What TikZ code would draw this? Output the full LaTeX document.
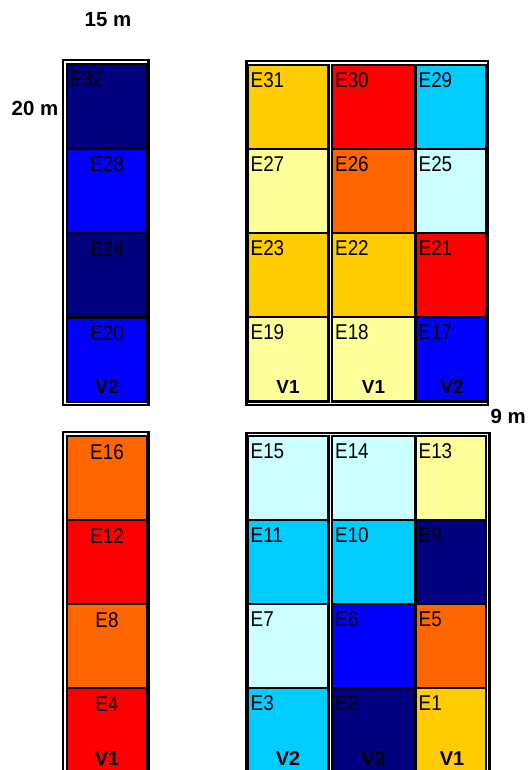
\documentclass[tikz,border=0pt]{standalone}
\usepackage{fontspec}
\setmainfont{Liberation Sans}
\definecolor{cnavy}{HTML}{000080}
\definecolor{cblue}{HTML}{0000FF}
\definecolor{cgold}{HTML}{FFCC00}
\definecolor{cred}{HTML}{FF0000}
\definecolor{csky}{HTML}{00CCFF}
\definecolor{clyel}{HTML}{FFFF99}
\definecolor{corange}{HTML}{FF6600}
\definecolor{clcyan}{HTML}{CCFFFF}
\tikzset{
  cellbox/.style={draw=black, line width=2.4bp},
  framebox/.style={draw=black, line width=2.4bp},
  etext/.style={inner sep=0pt, font=\fontsize{21.5}{24}\selectfont, xscale=0.88},
  vtext/.style={inner sep=0pt, anchor=base, font=\fontsize{19}{22}\selectfont\bfseries},
  vtextb/.style={inner sep=0pt, anchor=base, font=\fontsize{20}{24}\selectfont\bfseries},
  dimtext/.style={inner sep=0pt, font=\fontsize{20.5}{24}\selectfont\bfseries},
}
% left-aligned cell: x1 y1 x2 y2 colour label
\newcommand{\ecellL}[6]{%
  \filldraw[cellbox, fill=#5] (#1,#2) rectangle (#3,#4);
  \node[etext, anchor=base west] (n#6) at ({#1+3},{#2+22.5}) {#6};}
% centred cell
\newcommand{\ecellC}[6]{%
  \filldraw[cellbox, fill=#5] (#1,#2) rectangle (#3,#4);
  \node[etext, anchor=base] (n#6) at ({(#1+#3)/2},{#2+23}) {#6};}
\begin{document}
\begin{tikzpicture}[x=1bp, y=-1bp]
\useasboundingbox (0,0) rectangle (528,770);
\clip (0,0) rectangle (528,770);
\fill[white] (0,0) rectangle (528,770);

% dimension labels
\node[dimtext, anchor=base] (d15) at (108,26.5) {15 m};
\node[dimtext, anchor=base east] (d20) at (58.5,115) {20 m};
\node[dimtext, anchor=base west] (d9) at (490.5,423.5) {9 m};

% frames
\draw[framebox] (63,60) rectangle (148.5,405);
\draw[framebox] (246.5,61) rectangle (488,405);
\draw[framebox] (63,432) rectangle (148.5,800);
\draw[framebox] (246.5,433) rectangle (489.5,800);

% top-left column
\ecellL{67}{64}{147}{148.5}{cnavy}{E32}
\ecellC{67}{148.5}{147}{233}{cblue}{E28}
\ecellC{67}{233}{147}{317.5}{cnavy}{E24}
\ecellC{67}{317.5}{147}{402}{cblue}{E20}
\node[vtext] (vA) at (107,393) {V2};

% top-right block
\ecellL{247.5}{65}{328.5}{149}{cgold}{E31}
\ecellL{332}{65}{415.5}{149}{cred}{E30}
\ecellL{415.5}{65}{485.7}{149}{csky}{E29}
\ecellL{247.5}{149}{328.5}{233}{clyel}{E27}
\ecellL{332}{149}{415.5}{233}{corange}{E26}
\ecellL{415.5}{149}{485.7}{233}{clcyan}{E25}
\ecellL{247.5}{233}{328.5}{317}{cgold}{E23}
\ecellL{332}{233}{415.5}{317}{cgold}{E22}
\ecellL{415.5}{233}{485.7}{317}{cred}{E21}
\ecellL{247.5}{317}{328.5}{401.5}{clyel}{E19}
\ecellL{332}{317}{415.5}{401.5}{clyel}{E18}
\ecellL{415.5}{317}{485.7}{401.5}{cblue}{E17}
\node[vtext] (vB) at (288,393) {V1};
\node[vtext] (vC) at (373.5,393) {V1};
\node[vtext] (vD) at (452,393) {V2};

% bottom-left column
\ecellC{67}{436}{147}{520}{corange}{E16}
\ecellC{67}{520}{147}{604}{cred}{E12}
\ecellC{67}{604}{147}{688}{corange}{E8}
\ecellC{67}{688}{147}{790}{cred}{E4}
\node[vtextb] (vE) at (107,765) {V1};

% bottom-right block
\ecellL{247.5}{436}{328.5}{520}{clcyan}{E15}
\ecellL{332}{436}{415.5}{520}{clcyan}{E14}
\ecellL{415.5}{436}{486}{520}{clyel}{E13}
\ecellL{247.5}{520}{328.5}{604}{csky}{E11}
\ecellL{332}{520}{415.5}{604}{csky}{E10}
\ecellL{415.5}{520}{486}{604}{cnavy}{E9}
\ecellL{247.5}{604}{328.5}{688}{clcyan}{E7}
\ecellL{332}{604}{415.5}{688}{cblue}{E6}
\ecellL{415.5}{604}{486}{688}{corange}{E5}
\ecellL{247.5}{688}{328.5}{790}{csky}{E3}
\ecellL{332}{688}{415.5}{790}{cnavy}{E2}
\ecellL{415.5}{688}{486}{790}{cgold}{E1}
\node[vtextb] (vF) at (288,765) {V2};
\node[vtextb] (vG) at (373.5,765) {V2};
\node[vtextb] (vH) at (452,765) {V1};
\end{tikzpicture}
\end{document}
